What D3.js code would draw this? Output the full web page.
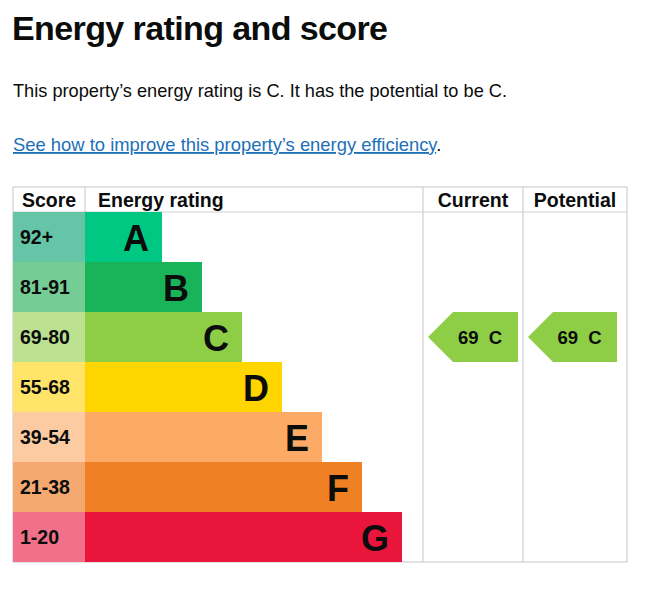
<!DOCTYPE html>
<html>
<head>
<meta charset="utf-8">
<script src="https://cdn.jsdelivr.net/npm/d3@7"></script>
<style>
  body { margin: 0; background: #fff; }
  svg { display: block; }
</style>
</head>
<body>
<svg></svg>
<script>
const bands = ["A", "B", "C", "D", "E", "F", "G"];
const scoreRanges = ["92+", "81-91", "69-80", "55-68", "39-54", "21-38", "1-20"];
const bandMin = [92, 81, 69, 55, 39, 21, 1];
const barColors = ["#00c781", "#19b459", "#8dce46", "#ffd500", "#fcaa65", "#ef8023", "#e9153b"];
const scoreColors = ["#66c5a6", "#75cc94", "#bbe191", "#ffe469", "#fdcba1", "#f5a870", "#f27089"];
const columns = ["Score", "Energy rating", "Current", "Potential"];
const currentScore = 69;
const potentialScore = 69;

const svg = d3.select("svg").attr("width", 651).attr("height", 604);

const bandOf = s => bands[bandMin.findIndex(m => s >= m)];
const FONT = "Liberation Sans, Arial, sans-serif";

// heading + text
svg.append("text").attr("x", 12).attr("y", 40)
  .attr("font-family", FONT)
  .attr("font-weight", "bold").attr("font-size", 34).attr("letter-spacing", -0.6)
  .attr("fill", "#0b0c0c")
  .text("Energy rating and score");

svg.append("text").attr("x", 13).attr("y", 97)
  .attr("font-family", FONT)
  .attr("font-size", 18.2).attr("fill", "#0b0c0c")
  .text(`This property\u2019s energy rating is ${bandOf(currentScore)}. It has the potential to be ${bandOf(potentialScore)}.`);

const link = svg.append("text").attr("x", 13).attr("y", 151)
  .attr("font-family", FONT)
  .attr("font-size", 18.4);
link.append("tspan").attr("fill", "#1d70b8").attr("text-decoration", "underline")
  .text("See how to improve this property\u2019s energy efficiency");
link.append("tspan").attr("fill", "#0b0c0c").text(".");

// table
const tLeft = 13, scoreRight = 85, curLeft = 423, potLeft = 523, tRight = 627;
const tTop = 187, headBottom = 212, tBottom = 562;

const y = d3.scaleBand().domain(bands).range([headBottom, tBottom]);
const x = d3.scaleLinear().domain([0, 7]).range([scoreRight + 37, scoreRight + 317]);

const grid = svg.append("g").attr("stroke", "#cfcfcf").attr("stroke-width", 1.2).attr("fill", "none");
grid.append("rect").attr("x", tLeft).attr("y", tTop).attr("width", tRight - tLeft).attr("height", tBottom - tTop);
grid.append("line").attr("x1", tLeft).attr("x2", tRight).attr("y1", headBottom).attr("y2", headBottom);
[scoreRight, curLeft, potLeft].forEach(cx => {
  grid.append("line").attr("x1", cx).attr("x2", cx).attr("y1", tTop).attr("y2", cx === scoreRight ? headBottom : tBottom);
});

const headX = [22, 98, (curLeft + potLeft) / 2, (potLeft + tRight) / 2];
const headAnchor = ["start", "start", "middle", "middle"];
svg.append("g").selectAll("text").data(columns).join("text")
  .attr("x", (d, i) => headX[i]).attr("y", 207)
  .attr("text-anchor", (d, i) => headAnchor[i])
  .attr("font-family", FONT)
  .attr("font-weight", "bold").attr("font-size", 19.5).attr("fill", "#0b0c0c")
  .text(d => d);

const rows = svg.append("g").selectAll("g").data(bands).join("g")
  .attr("transform", d => `translate(0,${y(d)})`);

rows.append("rect").attr("x", tLeft).attr("width", scoreRight - tLeft).attr("height", y.bandwidth())
  .attr("fill", (d, i) => scoreColors[i]);
rows.append("rect").attr("x", scoreRight).attr("height", y.bandwidth())
  .attr("width", (d, i) => x(i + 1) - scoreRight)
  .attr("fill", (d, i) => barColors[i]);
rows.append("text").attr("x", 20).attr("y", y.bandwidth() / 2 + 7)
  .attr("font-family", FONT)
  .attr("font-weight", "bold").attr("font-size", 19.5).attr("fill", "#0b0c0c")
  .text((d, i) => scoreRanges[i]);
rows.append("text").attr("x", (d, i) => x(i + 1) - 13).attr("y", y.bandwidth() / 2 + 14)
  .attr("text-anchor", "end")
  .attr("font-family", FONT)
  .attr("font-weight", "bold").attr("font-size", 36).attr("fill", "#0b0c0c")
  .text(d => d);

// arrows
const arrows = [
  { score: currentScore, x0: curLeft + 5, x1: potLeft - 5 },
  { score: potentialScore, x0: potLeft + 5, x1: tRight - 10 }
];
arrows.forEach(a => {
  const b = bandOf(a.score);
  const bi = bands.indexOf(b);
  const y0 = y(b), h = y.bandwidth();
  svg.append("path")
    .attr("d", `M${a.x0},${y0 + h / 2} L${a.x0 + 25},${y0} L${a.x1},${y0} L${a.x1},${y0 + h} L${a.x0 + 25},${y0 + h} Z`)
    .attr("fill", barColors[bi]);
  svg.append("text").attr("x", (a.x0 + a.x1) / 2 + 7).attr("y", y0 + h / 2 + 7)
    .attr("text-anchor", "middle")
    .attr("font-family", FONT)
    .attr("font-weight", "bold").attr("font-size", 18.5).attr("fill", "#0b0c0c")
    .attr("xml:space", "preserve")
    .text(`${a.score}  ${b}`);
});
</script>
</body>
</html>
